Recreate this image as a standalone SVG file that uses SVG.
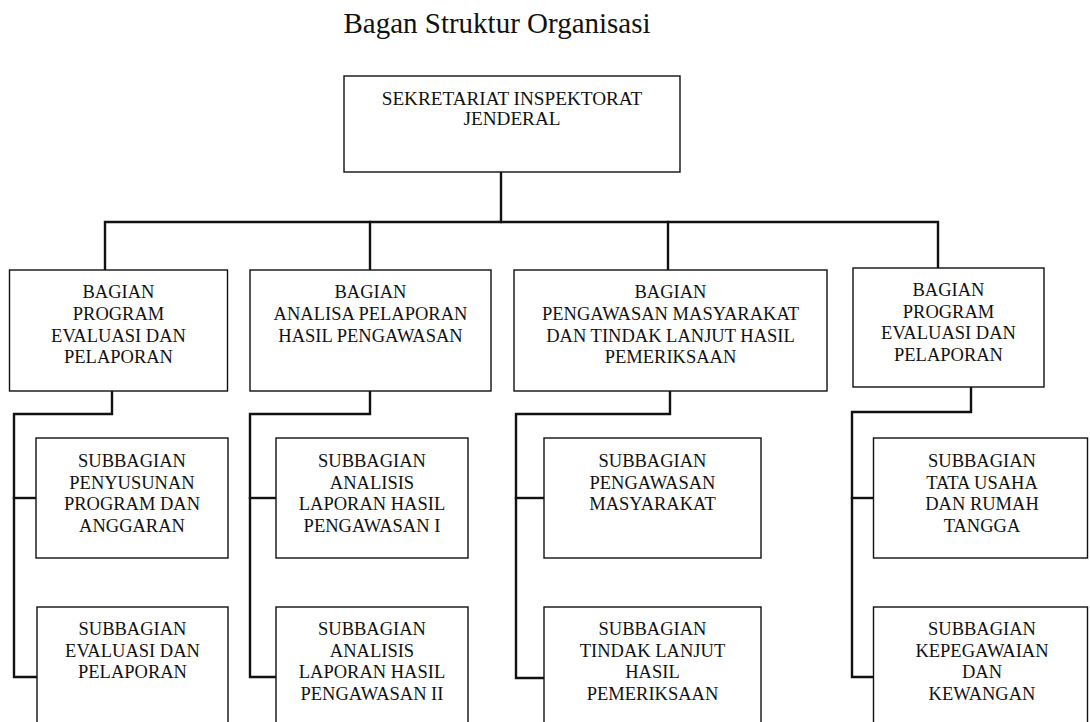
<svg xmlns="http://www.w3.org/2000/svg" width="1090" height="722" viewBox="0 0 1090 722">
<style>
.box{fill:#fff;stroke:#111;stroke-width:1.4}
.t{font-family:"Liberation Serif","Times New Roman",serif;font-size:18.5px;fill:#111;text-anchor:middle}
.top{font-size:19.2px}
.title{font-family:"Liberation Serif","Times New Roman",serif;font-size:29px;fill:#111;text-anchor:middle}
.c{fill:none;stroke:#111;stroke-width:2.4;stroke-linejoin:miter;stroke-linecap:square}
</style>
<rect width="1090" height="722" fill="#fff"/>
<text class="title" x="497" y="33">Bagan Struktur Organisasi</text>

<g id="connectors">
<path class="c" d="M501,172 V222"/>
<path class="c" d="M105,270 V222 H938 V268"/>
<path class="c" d="M370,222 V270"/>
<path class="c" d="M668,222 V270"/>
<path class="c" d="M112,391 V414 H14 V677 H37"/>
<path class="c" d="M14,498 H36"/>
<path class="c" d="M370,391 V414 H250 V677 H276"/>
<path class="c" d="M250,498 H276"/>
<path class="c" d="M670,391 V414 H516 V678 H544"/>
<path class="c" d="M516,498 H544"/>
<path class="c" d="M971,387 V412 H852 V677 H873"/>
<path class="c" d="M852,498 H873"/>
</g>

<g id="sekretariat">
<rect class="box" x="344" y="76" width="336" height="96"/>
<text class="t top" x="512" y="105">SEKRETARIAT INSPEKTORAT</text>
<text class="t top" x="512" y="125">JENDERAL</text>
</g>

<g id="bagian1">
<rect class="box" x="9.5" y="270" width="218" height="121"/>
<text class="t" x="118.5" y="298">BAGIAN</text>
<text class="t" x="118.5" y="320">PROGRAM</text>
<text class="t" x="118.5" y="341.5">EVALUASI DAN</text>
<text class="t" x="118.5" y="363">PELAPORAN</text>
</g>

<g id="bagian2">
<rect class="box" x="250" y="270" width="241" height="121"/>
<text class="t" x="370.5" y="298">BAGIAN</text>
<text class="t" x="370.5" y="320">ANALISA PELAPORAN</text>
<text class="t" x="370.5" y="341.5">HASIL PENGAWASAN</text>
</g>

<g id="bagian3">
<rect class="box" x="514" y="270" width="313" height="121"/>
<text class="t" x="670.5" y="298">BAGIAN</text>
<text class="t" x="670.5" y="320">PENGAWASAN MASYARAKAT</text>
<text class="t" x="670.5" y="341.5">DAN TINDAK LANJUT HASIL</text>
<text class="t" x="670.5" y="363">PEMERIKSAAN</text>
</g>

<g id="bagian4">
<rect class="box" x="853" y="268" width="191" height="119"/>
<text class="t" x="948.5" y="296">BAGIAN</text>
<text class="t" x="948.5" y="317.5">PROGRAM</text>
<text class="t" x="948.5" y="339">EVALUASI DAN</text>
<text class="t" x="948.5" y="361">PELAPORAN</text>
</g>

<g id="sub1a">
<rect class="box" x="36" y="438" width="192" height="120"/>
<text class="t" x="132" y="467">SUBBAGIAN</text>
<text class="t" x="132" y="488.5">PENYUSUNAN</text>
<text class="t" x="132" y="510">PROGRAM DAN</text>
<text class="t" x="132" y="531.5">ANGGARAN</text>
</g>

<g id="sub1b">
<rect class="box" x="37" y="607" width="191" height="130"/>
<text class="t" x="132.5" y="635">SUBBAGIAN</text>
<text class="t" x="132.5" y="656.5">EVALUASI DAN</text>
<text class="t" x="132.5" y="678">PELAPORAN</text>
</g>

<g id="sub2a">
<rect class="box" x="276" y="438" width="192" height="120"/>
<text class="t" x="372" y="467">SUBBAGIAN</text>
<text class="t" x="372" y="488.5">ANALISIS</text>
<text class="t" x="372" y="510">LAPORAN HASIL</text>
<text class="t" x="372" y="531.5">PENGAWASAN I</text>
</g>

<g id="sub2b">
<rect class="box" x="276" y="607" width="192" height="130"/>
<text class="t" x="372" y="635">SUBBAGIAN</text>
<text class="t" x="372" y="656.5">ANALISIS</text>
<text class="t" x="372" y="678">LAPORAN HASIL</text>
<text class="t" x="372" y="699.5">PENGAWASAN II</text>
</g>

<g id="sub3a">
<rect class="box" x="544" y="438" width="217" height="120"/>
<text class="t" x="652.5" y="467">SUBBAGIAN</text>
<text class="t" x="652.5" y="488.5">PENGAWASAN</text>
<text class="t" x="652.5" y="510">MASYARAKAT</text>
</g>

<g id="sub3b">
<rect class="box" x="544" y="607" width="217" height="130"/>
<text class="t" x="652.5" y="635">SUBBAGIAN</text>
<text class="t" x="652.5" y="656.5">TINDAK LANJUT</text>
<text class="t" x="652.5" y="678">HASIL</text>
<text class="t" x="652.5" y="699.5">PEMERIKSAAN</text>
</g>

<g id="sub4a">
<rect class="box" x="873.5" y="438" width="214" height="120"/>
<text class="t" x="982" y="467">SUBBAGIAN</text>
<text class="t" x="982" y="488.5">TATA USAHA</text>
<text class="t" x="982" y="510">DAN RUMAH</text>
<text class="t" x="982" y="531.5">TANGGA</text>
</g>

<g id="sub4b">
<rect class="box" x="873.5" y="607" width="214" height="130"/>
<text class="t" x="982" y="635">SUBBAGIAN</text>
<text class="t" x="982" y="656.5">KEPEGAWAIAN</text>
<text class="t" x="982" y="678">DAN</text>
<text class="t" x="982" y="699.5">KEWANGAN</text>
</g>
</svg>
